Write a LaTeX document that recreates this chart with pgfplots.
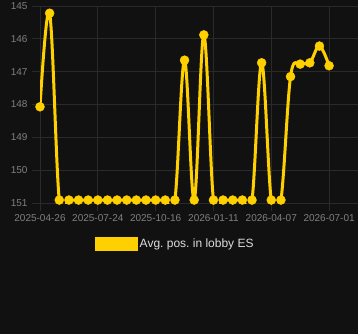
\documentclass[border=0pt]{standalone}
\usepackage{pgfplots}
\pgfplotsset{compat=1.18}
\usepackage{fontspec}
\setmainfont{Liberation Sans}
\frenchspacing
\definecolor{bg}{HTML}{111111}
\definecolor{gridc}{HTML}{2A2A2A}
\definecolor{tickc}{HTML}{808080}
\definecolor{gold}{HTML}{FFD000}
\definecolor{legc}{HTML}{DDDDDD}
\begin{document}
\begin{tikzpicture}
\fill[bg] (0,0) rectangle (358bp,334bp);
\begin{axis}[
  at={(40bp,131bp)}, anchor=south west,
  scale only axis, width=318bp, height=197bp,
  xmin=0, xmax=33, ymin=145, ymax=151, y dir=reverse,
  axis line style={draw=none},
  grid=major, grid style={gridc, line width=0.8bp},
  xtick={0,6,12,18,24,30},
  xticklabels={2025-04-26,2025-07-24,2025-10-16,2026-01-11,2026-04-07,2026-07-01},
  ytick={145,146,147,148,149,150,151},
  xtick pos=bottom, ytick pos=left,
  tick align=outside, major tick length=8bp, tick style={gridc, line width=0.8bp},
  ticklabel style={font=\fontsize{10bp}{12bp}\selectfont, text=tickc},
  yticklabel style={xshift=-1bp},
  /pgf/number format/assume math mode=true,
  clip mode=individual,
  legend style={at={(0.425,-0.2056)}, anchor=center, draw=none, fill=none,
    text=legc, font=\fontsize{12bp}{14bp}\selectfont,
    /tikz/every even column/.append style={column sep=3bp}},
  legend image code/.code={\fill[gold] (0bp,-5.5bp) rectangle (40bp,5.5bp);},
]
\addplot[gold, line width=3bp, smooth, tension=0.6, mark=*, mark size=4.5bp,
  mark options={fill=gold, draw=gold, line width=0.4pt, solid}] coordinates {
(0,148.07) (1,145.22) (2,150.91) (3,150.91) (4,150.91) (5,150.91) (6,150.91)
(7,150.91) (8,150.91) (9,150.91) (10,150.91) (11,150.91) (12,150.91) (13,150.91)
(14,150.91) (15,146.65) (16,150.91) (17,145.88) (18,150.91) (19,150.91) (20,150.91)
(21,150.91) (22,150.91) (23,146.73) (24,150.91) (25,150.91) (26,147.15) (27,146.77)
(28,146.73) (29,146.22) (30,146.82)
};
\legend{Avg. pos. in lobby ES}
\end{axis}
\pgfresetboundingbox
\path (0,0) rectangle (358bp,334bp);
\end{tikzpicture}
\end{document}
